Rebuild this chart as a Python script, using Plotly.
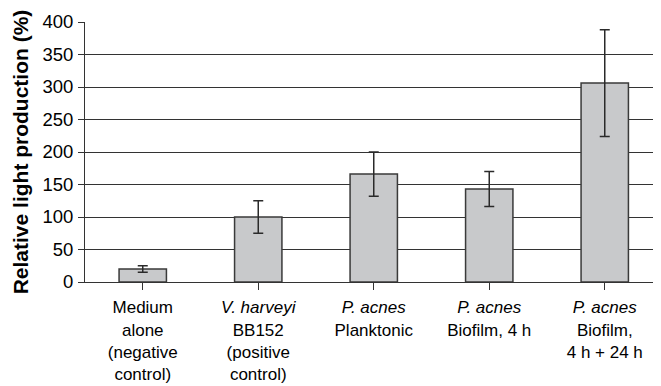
import plotly.graph_objects as go

categories = [
    "Medium<br>alone<br>(negative<br>control)",
    "<i>V. harveyi</i><br>BB152<br>(positive<br>control)",
    "<i>P. acnes</i><br>Planktonic",
    "<i>P. acnes</i><br>Biofilm, 4 h",
    "<i>P. acnes</i><br>Biofilm,<br>4 h + 24 h",
]
values = [20, 100, 166, 143, 306]
errors = [5, 25, 34, 27, 82]
y_ticks = [0, 50, 100, 150, 200, 250, 300, 350, 400]

FONT = "Arial, Liberation Sans, sans-serif"

fig = go.Figure()
fig.add_trace(go.Bar(
    x=list(range(len(categories))),
    y=values,
    marker=dict(color="#c8c9cb", line=dict(color="#3a3a3a", width=1.5)),
    error_y=dict(type="data", array=errors, visible=True, color="#2a2a2a",
                 thickness=1.5, width=5),
    width=0.41,
))

# the page body has an 8px default margin, so the figure is offset by 8px
fig.update_layout(
    width=653, height=378,
    margin=dict(l=77, r=0, t=14, b=104),
    paper_bgcolor="white", plot_bgcolor="white",
    showlegend=False,
    font=dict(family=FONT, color="black"),
)
fig.update_xaxes(
    automargin=False,
    range=[-0.5, -0.5 + 576 / 115.5],
    tickmode="array",
    tickvals=list(range(len(categories))),
    ticktext=categories,
    tickson="boundaries",
    ticks="outside", ticklen=7, tickcolor="#333", tickwidth=1,
    showline=True, linecolor="#333", linewidth=1,
    showgrid=False, zeroline=False,
    tickfont=dict(size=17, family=FONT, color="black"),
    ticklabelstandoff=3,
)
fig.update_yaxes(
    automargin=False,
    range=[0, 400],
    tickvals=y_ticks,
    ticks="outside", ticklen=6, tickcolor="#333", tickwidth=1,
    showline=True, linecolor="#333", linewidth=1,
    showgrid=True, gridcolor="#333", gridwidth=1,
    zeroline=False,
    tickfont=dict(size=18.5, family=FONT, color="black"),
    ticklabelstandoff=1,
    title=dict(text="<b>Relative light production (%)</b>",
               font=dict(size=21, family=FONT, color="black"), standoff=8),
)

fig.write_html("out.html")
